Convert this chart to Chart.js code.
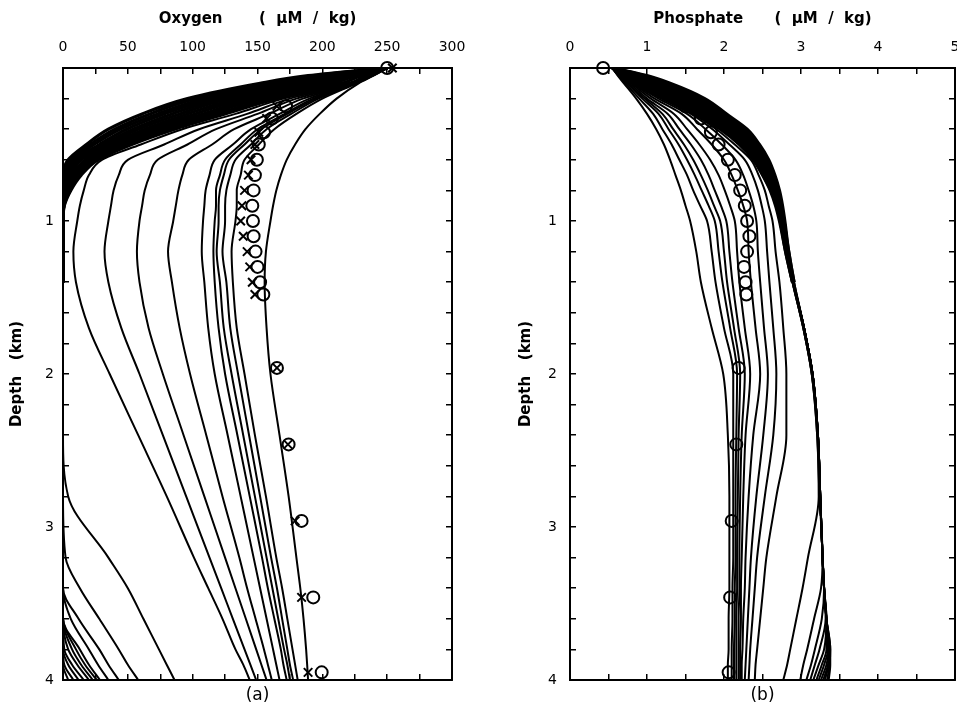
<!DOCTYPE html>
<html><head><meta charset="utf-8">
<script src="https://cdn.jsdelivr.net/npm/chart.js@4.4.0/dist/chart.umd.min.js"></script>
<style>
html,body{margin:0;padding:0;background:#fff;}
#wrap{position:relative;width:957px;height:704px;overflow:hidden;background:#fff;}
canvas{position:absolute;top:0;}
</style></head><body>
<div id="wrap">
<canvas id="ca" width="480" height="704" style="left:0;width:480px;height:704px"></canvas>
<canvas id="cb" width="477" height="704" style="left:480px;width:477px;height:704px"></canvas>
</div>
<script>
// depth (km) at which every model curve is read
const depthGrid = [0, 0.05, 0.1, 0.2, 0.3, 0.4, 0.5, 0.6, 0.7, 0.8, 0.9, 1.0, 1.2, 1.4, 1.7, 2.0, 2.4, 2.8, 3.2, 3.4, 3.6, 3.8, 3.9, 4.0];

// Oxygen model curves that stay oxygenated (uM/kg)
const oxygenCurves = [
  [250,235,222,170,133,92,60,30,20,16,13,11,8,10,20,36,58,80,101,112,123,133,139,144],
  [250,236,222.5,175,142,105,78,50,43,39,37,35,32,35,45,59,77,95,113,122,131,140,144.5,149],
  [250,236.5,223,180,150,118,96,73,67,63,61,59,57,59,66,77,93,109,125,133,141,149,153,157],
  [250,237,224,185,159,132,115,97,92,89,87,85,81,84,90,98,110.5,123,136,142,148.5,155,158,161],
  [250,237.5,224.5,190,167,145,131,117,113,110,109,108,107,109,112,117,127,137,147,152,157,162,164.5,167],
  [250,238,225,193,171,150,137,125,121,118,118,117,116,117,120,125,134.5,144,153.5,158,163,168,170,172.5],
  [250,238,225.5,195,173,153,140,128,124,121,120,120,118.5,121,124,130,139,148,157,161.5,166,170.5,173,175],
  [250,238.5,226,197,176,157,145,133,129,126,125,125,123,126,129,135,143.5,152,160.5,165,169,173,175,177.5],
  [250,239,226.5,200,180,163,151,140,137,134,134,133,130,131,134,140,148,156.5,164.5,169,173,177,179,181],
  [250,239.5,228,211,198,187,179,172.5,168,164.5,162,160,156.5,155.5,157,160,167,174,180,183,185.5,187.5,188.3,189]
];
// Oxygen model curves that become anoxic
const oxygenAnoxic = [
  [250,189,152,96,61,35,18,4,0,0,0,0,0,0,0,0,0,0,0,0,0,0,0,4],
  [250,193,158,102,67,40,21,6,1.3,0.5,0,0,0,0,0,0,0,0,0,0,0,0,1,8],
  [250,197,165,109,73,44,24,8,2.5,1.1,0,0,0,0,0,0,0,0,0,0,0,0,4,12],
  [250,201,171,115,78,49,28,10,3.8,1.6,0,0,0,0,0,0,0,0,0,0,0,1,7,16],
  [250,205,177,121,84,54,31,12,5,2.2,0,0,0,0,0,0,0,0,0,0,0,4,11,20],
  [250,209,183,127,90,58,34,14,6.4,2.7,0,0,0,0,0,0,0,0,0,0,0,7,14,23],
  [250,214,190,134,96,63,37,17,7.6,3.3,0,0,0,0,0,0,0,0,0,0,0,10,17,26],
  [250,218,196,140,102,67,40,19,8.9,3.8,0.3,0,0,0,0,0,0,0,0,0,0,13,20,28.5],
  [250,222,202,146,108,72,43,21,10,4.4,0.5,0,0,0,0,0,0,0,0,0,6,20,27,35],
  [250,226,208,152,113,77,47,23,11.5,4.9,0.6,0,0,0,0,0,0,0,0,0,12,28,35,43],
  [250,230,215,159,119,81,50,25,12.7,5.5,0.8,0,0,0,0,0,0,0,2,13,28,43,50,58],
  [250,234,221,165,125,86,53,27,14,6,1,0,0,0,0,0,0,4,35,50,62,74,80,86]
];
// Phosphate model curves (uM/kg), same order as oxygenCurves
const phosphateCurves = [
  [0.55,0.67,0.84,1.22,1.6,1.9,2.14,2.35,2.45,2.53,2.58,2.63,2.67,2.72,2.77,2.81,2.81,2.68,2.55,2.51,2.47,2.43,2.41,2.4],
  [0.55,0.66,0.83,1.19,1.57,1.85,2.07,2.27,2.37,2.44,2.49,2.53,2.56,2.59,2.64,2.68,2.64,2.53,2.43,2.4,2.37,2.34,2.33,2.32],
  [0.55,0.66,0.82,1.15,1.52,1.76,1.97,2.15,2.25,2.32,2.38,2.42,2.44,2.47,2.52,2.57,2.51,2.42,2.35,2.33,2.31,2.29,2.28,2.27],
  [0.55,0.65,0.81,1.1,1.45,1.65,1.84,2.0,2.1,2.18,2.25,2.3,2.32,2.35,2.41,2.47,2.38,2.32,2.28,2.27,2.25,2.24,2.23,2.23],
  [0.55,0.65,0.79,1.05,1.35,1.52,1.68,1.82,1.93,2.01,2.08,2.14,2.17,2.2,2.27,2.34,2.28,2.25,2.23,2.22,2.22,2.21,2.21,2.21],
  [0.55,0.64,0.77,1.0,1.27,1.42,1.57,1.7,1.8,1.88,1.96,2.03,2.07,2.11,2.19,2.27,2.23,2.21,2.2,2.2,2.19,2.19,2.19,2.19],
  [0.55,0.64,0.75,0.97,1.2,1.34,1.48,1.6,1.7,1.79,1.87,1.95,2.0,2.04,2.13,2.21,2.19,2.18,2.17,2.17,2.16,2.16,2.16,2.16],
  [0.55,0.63,0.74,0.94,1.15,1.28,1.41,1.52,1.62,1.71,1.8,1.88,1.93,1.98,2.08,2.17,2.16,2.15,2.15,2.14,2.14,2.13,2.13,2.13],
  [0.55,0.63,0.72,0.9,1.08,1.2,1.32,1.42,1.52,1.6,1.69,1.78,1.84,1.89,2.0,2.12,2.12,2.12,2.12,2.11,2.11,2.1,2.1,2.1],
  [0.55,0.62,0.7,0.86,1.0,1.12,1.22,1.3,1.37,1.44,1.5,1.56,1.64,1.7,1.84,1.99,2.05,2.07,2.07,2.07,2.06,2.06,2.05,2.05]
];
// Phosphate model curves, same order as oxygenAnoxic
const phosphateAnoxic = [
  [0.55,1.0,1.3,1.75,2.03,2.3,2.46,2.58,2.66,2.72,2.76,2.79,2.84,2.91,3.04,3.15,3.22,3.25,3.28,3.3,3.33,3.38,3.38,3.36],
  [0.55,0.97,1.26,1.7,1.99,2.27,2.44,2.56,2.65,2.71,2.75,2.78,2.84,2.91,3.04,3.15,3.22,3.25,3.28,3.3,3.33,3.38,3.37,3.34],
  [0.55,0.94,1.22,1.66,1.96,2.24,2.41,2.54,2.63,2.7,2.74,2.78,2.83,2.9,3.04,3.15,3.22,3.25,3.28,3.3,3.33,3.37,3.36,3.31],
  [0.55,0.91,1.18,1.61,1.92,2.2,2.39,2.53,2.62,2.69,2.74,2.77,2.83,2.9,3.04,3.15,3.22,3.25,3.28,3.3,3.33,3.37,3.35,3.29],
  [0.55,0.88,1.14,1.57,1.88,2.17,2.37,2.51,2.6,2.68,2.73,2.76,2.82,2.9,3.04,3.15,3.22,3.25,3.28,3.3,3.33,3.36,3.33,3.26],
  [0.55,0.85,1.1,1.52,1.84,2.14,2.34,2.49,2.59,2.67,2.72,2.76,2.82,2.9,3.04,3.15,3.22,3.25,3.28,3.3,3.33,3.35,3.3,3.23],
  [0.55,0.83,1.05,1.48,1.81,2.11,2.32,2.47,2.57,2.65,2.71,2.75,2.82,2.9,3.04,3.15,3.22,3.25,3.28,3.3,3.33,3.33,3.27,3.2],
  [0.55,0.8,1.01,1.43,1.77,2.08,2.29,2.45,2.56,2.64,2.7,2.74,2.82,2.9,3.04,3.15,3.22,3.25,3.28,3.3,3.33,3.3,3.23,3.16],
  [0.55,0.77,0.97,1.39,1.73,2.05,2.27,2.43,2.54,2.63,2.7,2.74,2.81,2.9,3.04,3.15,3.22,3.25,3.28,3.3,3.32,3.24,3.18,3.12],
  [0.55,0.74,0.93,1.34,1.69,2.01,2.25,2.42,2.53,2.62,2.69,2.73,2.81,2.89,3.03,3.14,3.22,3.25,3.28,3.3,3.27,3.18,3.13,3.07],
  [0.55,0.71,0.89,1.3,1.66,1.98,2.22,2.4,2.51,2.61,2.68,2.73,2.8,2.89,3.03,3.14,3.21,3.24,3.28,3.26,3.17,3.08,3.03,2.99],
  [0.55,0.68,0.85,1.25,1.62,1.95,2.2,2.38,2.5,2.6,2.67,2.72,2.8,2.89,3.03,3.14,3.21,3.23,3.09,3.02,2.94,2.86,2.82,2.77]
];

// observations
const obsDepth     = [0, 0.25, 0.33, 0.42, 0.5, 0.6, 0.7, 0.8, 0.9, 1.0, 1.1, 1.2, 1.3, 1.4, 1.48, 1.96, 2.46, 2.96, 3.46, 3.95];
const oxygenObs    = [250, 172, 161, 155, 151, 149.5, 148, 147, 146, 146.5, 147, 148.5, 150, 152, 154.5, 165, 174, 184, 193, 199.5];
const oxygenFit    = [254, 165, 157, 151, 148, 145, 143, 140, 138, 137, 139, 142, 144, 146, 148, 165, 173.5, 179, 184, 189];
const phosphateObs = [0.43, 1.5, 1.7, 1.83, 1.93, 2.05, 2.14, 2.21, 2.27, 2.3, 2.33, 2.3, 2.26, 2.28, 2.29, 2.19, 2.16, 2.1, 2.08, 2.06];

// tick labels
const depthTickLabels = [1, 2, 3, 4];
const oxygenTickLabels = [0, 50, 100, 150, 200, 250, 300];
const phosphateTickLabels = [0, 1, 2, 3, 4, 5];

Chart.defaults.font.family = "'DejaVu Sans', sans-serif";
Chart.defaults.color = '#000';

function curveSet(list, width, deepWidth) {
  return list.map(vals => ({
    data: vals.map((v, i) => ({ x: v, y: depthGrid[i] })),
    borderColor: '#000', borderWidth: width, pointRadius: 0, pointHoverRadius: 0, fill: false,
    cubicInterpolationMode: 'monotone', xAxisID: 'x', yAxisID: 'y',
    segment: { borderWidth: ctx => (ctx.p0.parsed.y >= 1.4 ? deepWidth : width) }
  }));
}
function markers(vals, style) {
  return {
    data: vals.map((v, i) => ({ x: v, y: obsDepth[i] })),
    showLine: false, pointStyle: style, pointRadius: 6, pointBorderWidth: 2,
    pointBorderColor: '#000', pointBackgroundColor: 'rgba(0,0,0,0)',
    borderColor: '#000', backgroundColor: 'rgba(0,0,0,0)', clip: false,
    xAxisID: 'x', yAxisID: 'y'
  };
}
function labelIn(list) {
  return v => {
    const t = list.find(t => Math.abs(t - v) < 1e-6);
    return t === undefined ? '' : String(t);
  };
}
function axes(o) {
  const grid = { drawOnChartArea: false, drawTicks: true, tickLength: -6, color: '#000', lineWidth: 1.5 };
  const border = { display: true, color: '#000', width: 2 };
  return {
    x: { type: 'linear', position: 'top', min: o.xmin, max: o.xmax, grid, border,
      ticks: { stepSize: o.xstep, autoSkip: false, maxRotation: 0, padding: 18, font: { size: 14 }, callback: labelIn(o.xlabels) },
      title: { display: true, text: o.title, font: { size: 15, weight: 'bold' }, padding: { top: 10, bottom: 0 } },
      afterFit: s => { s.height = 68; s.paddingLeft = 0; s.paddingRight = 0; } },
    x2: { type: 'linear', axis: 'x', position: 'bottom', min: o.xmin, max: o.xmax, grid, border,
      ticks: { stepSize: o.xstep, autoSkip: false, maxRotation: 0, callback: () => '' },
      title: { display: true, text: o.panel, font: { size: 17, lineHeight: 1 }, padding: 0 },
      afterFit: s => { s.height = 24; s.paddingLeft = 0; s.paddingRight = 0; } },
    y: { type: 'linear', position: 'left', reverse: true, min: 0, max: 4, grid, border,
      ticks: { stepSize: 0.2, autoSkip: false, padding: o.ypad, font: { size: 14 }, callback: labelIn(depthTickLabels) },
      title: { display: true, text: 'Depth   (km)', font: { size: 15, weight: 'bold' }, padding: { top: o.ytitle, bottom: 0 } },
      afterFit: s => { s.width = o.left; s.paddingTop = 0; s.paddingBottom = 0; } },
    y2: { type: 'linear', axis: 'y', position: 'right', reverse: true, min: 0, max: 4, grid, border,
      ticks: { stepSize: 0.2, autoSkip: false, callback: () => '' },
      afterFit: s => { s.width = o.right; s.paddingTop = 0; s.paddingBottom = 0; } }
  };
}
function makeChart(id, datasets, o) {
  return new Chart(document.getElementById(id), {
    type: 'line',
    data: { datasets },
    options: {
      indexAxis: 'y', responsive: false, animation: false, devicePixelRatio: 1,
      layout: { padding: 0, autoPadding: false },
      plugins: { legend: { display: false }, tooltip: { enabled: false } },
      events: [],
      scales: axes(o)
    }
  });
}

makeChart('ca',
  [...curveSet(oxygenAnoxic, 3.2, 2), ...curveSet(oxygenCurves, 2, 2), markers(oxygenObs, 'circle'), markers(oxygenFit, 'crossRot')],
  { xmin: 0, xmax: 300, xstep: 25, xlabels: oxygenTickLabels, title: 'Oxygen       (  \u03bcM  /  kg)', panel: '(a)', left: 63, right: 28, ypad: 15, ytitle: 8 });

makeChart('cb',
  [...curveSet(phosphateAnoxic, 3.2, 2), ...curveSet(phosphateCurves, 2, 2), markers(phosphateObs, 'circle')],
  { xmin: 0, xmax: 5, xstep: 0.5, xlabels: phosphateTickLabels, title: 'Phosphate      (  \u03bcM  /  kg)', panel: '(b)', left: 90, right: 2, ypad: 19, ytitle: 37 });
</script>
</body></html>
